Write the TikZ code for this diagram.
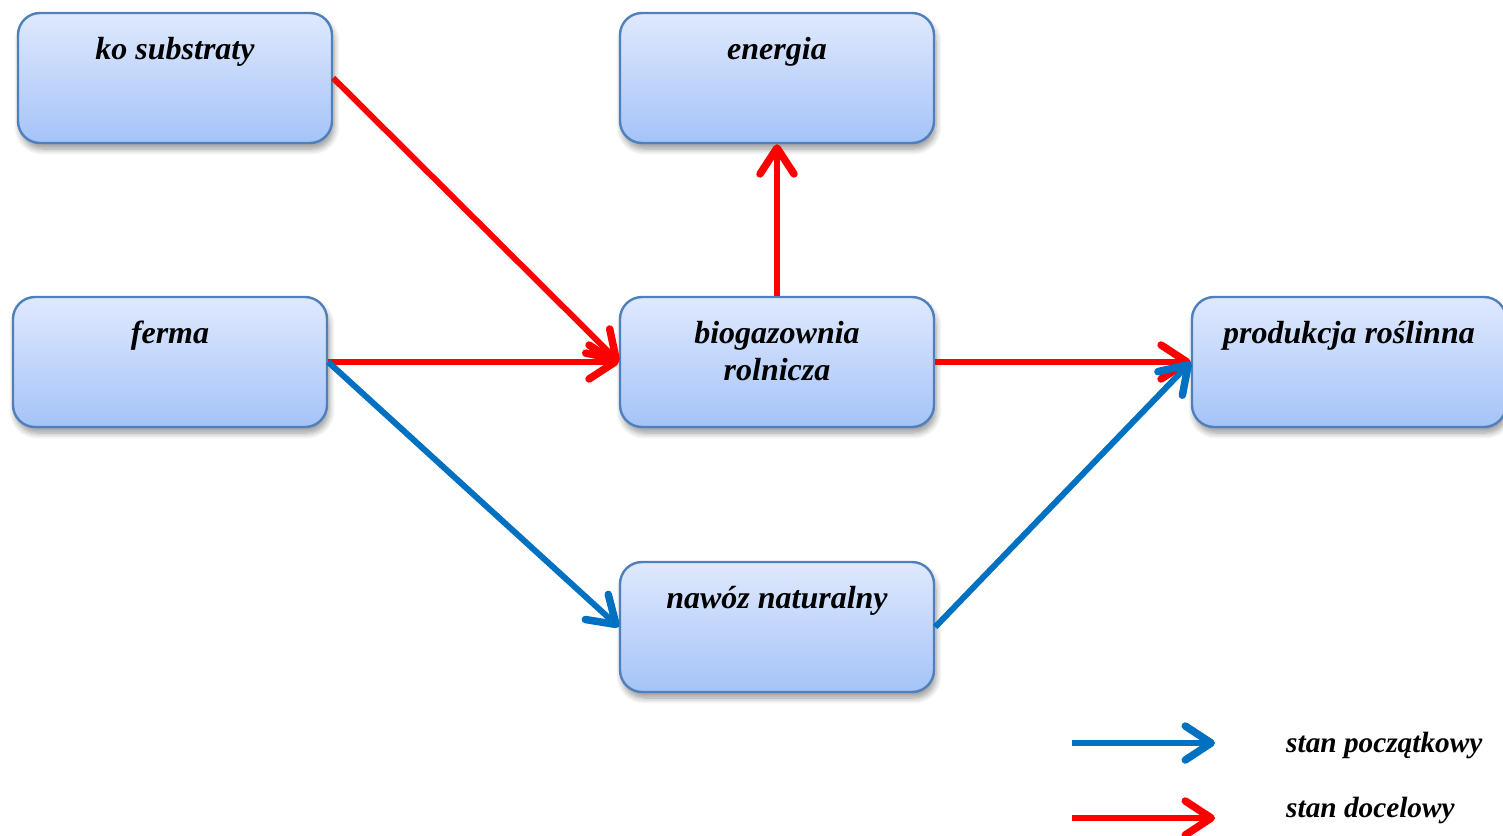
\documentclass[tikz,border=0pt]{standalone}
\usepackage{fontspec}
\setmainfont{Liberation Serif}
\usetikzlibrary{arrows.meta,shadows.blur}
\definecolor{boxtop}{HTML}{DFE9FD}
\definecolor{boxbot}{HTML}{A5C3F8}
\definecolor{boxline}{HTML}{5080BC}
\definecolor{myred}{HTML}{FF0000}
\definecolor{myblue}{HTML}{0070C0}
\tikzset{
  box/.style={draw=boxline, line width=2.4pt, rounded corners=22pt,
    top color=boxtop, bottom color=boxbot, minimum width=314pt, minimum height=130pt,
    blur shadow={shadow xshift=2pt, shadow yshift=-6pt, shadow blur steps=8, shadow opacity=40, shadow blur radius=6pt}},
  lbl/.style={font=\fontsize{32}{37}\selectfont\bfseries\itshape, align=center, inner sep=0pt, anchor=base},
  leglbl/.style={font=\fontsize{29.3}{36}\selectfont\bfseries\itshape, inner sep=0pt, anchor=base west},
  con/.style={line width=6pt, -{Straight Barb[length=26pt,width=34pt,round,line width=7.5pt]}},
  red/.style={con, draw=myred},
  blue/.style={con, draw=myblue}
}
\begin{document}
\begin{tikzpicture}[x=1pt,y=-1pt]
\useasboundingbox (0,0) rectangle (1503,835);
\node[box] (ko) at (175,78) {};
\node[box] (en) at (777,78) {};
\node[box] (fe) at (170,362) {};
\node[box] (bio) at (777,362) {};
\node[box] (pr) at (1349,362) {};
\node[box] (na) at (777,627) {};
\node[lbl] (tko) at (175,59) {ko substraty};
\node[lbl] (ten) at (777,59) {energia};
\node[lbl] (tfe) at (170,343) {ferma};
\node[lbl] (tbio) at (777,380) {biogazownia\\rolnicza};
\node[lbl] (tpr) at (1349,343) {produkcja roślinna};
\node[lbl] (tna) at (777,608) {nawóz naturalny};
\draw[red] (ko.east) -- (bio.west);
\draw[red] (fe.east) -- (bio.west);
\draw[red] (bio.north) -- (en.south);
\draw[red] (bio.east) -- (pr.west);
\draw[blue] (fe.east) -- (na.west);
\draw[blue] (na.east) -- (pr.west);
\coordinate (l1a) at (1072,743);
\coordinate (l1b) at (1215,743);
\coordinate (l2a) at (1072,818);
\coordinate (l2b) at (1215,818);
\draw[blue] (l1a) -- (l1b);
\draw[red] (l2a) -- (l2b);
\node[leglbl] (leg1) at (1286,752) {stan początkowy};
\node[leglbl] (leg2) at (1286,817) {stan docelowy};
\end{tikzpicture}
\end{document}
